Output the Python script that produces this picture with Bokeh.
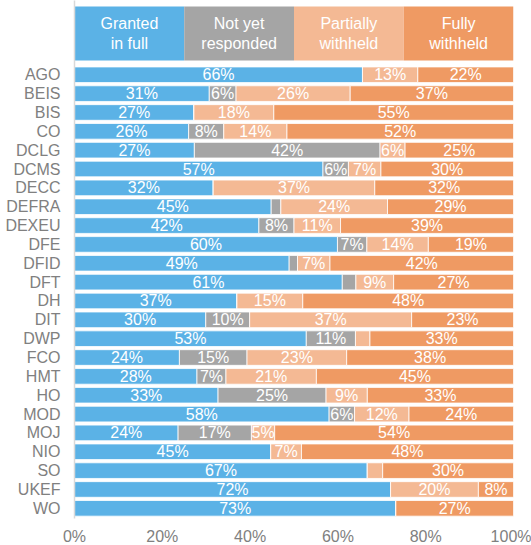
from bokeh.plotting import figure
from bokeh.models import ColumnDataSource, FixedTicker, PrintfTickFormatter, Range1d
from bokeh.core.properties import value
from bokeh.embed import file_html
from bokeh.resources import INLINE

categories = ["AGO", "BEIS", "BIS", "CO", "DCLG", "DCMS", "DECC", "DEFRA", "DEXEU", "DFE",
              "DFID", "DFT", "DH", "DIT", "DWP", "FCO", "HMT", "HO", "MOD", "MOJ",
              "NIO", "SO", "UKEF", "WO"]
granted = [65.6, 30.7, 27.2, 26.0, 27.3, 56.6, 31.6, 44.8, 42.0, 59.9,
           48.9, 61.0, 37.0, 29.9, 52.8, 23.9, 27.9, 32.7, 58.0, 23.6,
           44.7, 66.7, 72.0, 73.2]
not_yet = [0.0, 6.1, 0.0, 8.0, 42.3, 5.8, 0.0, 2.2, 8.0, 6.7,
           1.9, 3.1, 0.0, 10.0, 11.2, 15.4, 6.6, 24.6, 5.8, 16.7,
           0.0, 0.0, 0.0, 0.0]
partial = [12.6, 26.0, 18.2, 14.4, 5.7, 7.4, 36.8, 24.3, 10.6, 14.0,
           7.4, 8.6, 15.0, 36.9, 3.3, 22.7, 20.6, 9.4, 12.4, 5.3,
           7.0, 3.5, 20.0, 0.0]
fully = [21.8, 37.2, 54.6, 51.6, 24.7, 30.2, 31.6, 28.7, 39.4, 19.4,
         41.8, 27.3, 48.0, 23.2, 32.7, 38.0, 44.9, 33.3, 23.8, 54.4,
         48.3, 29.8, 8.0, 26.8]
series_names = ["Granted\nin full", "Not yet\nresponded", "Partially\nwithheld", "Fully\nwithheld"]
colors = ["#5BB2E6", "#A5A5A5", "#F4B994", "#EF9A63"]
x_ticks = [0, 20, 40, 60, 80, 100]

FONT = value("Liberation Sans")

p = figure(frame_width=439, frame_height=518, x_range=Range1d(0, 100), y_range=Range1d(23.54, -3.94),
           output_backend="svg", toolbar_location=None,
           min_border_left=74, min_border_right=18, min_border_top=0, min_border_bottom=27)
p.outline_line_color = None
p.xgrid.visible = False
p.ygrid.visible = False

ys = list(range(len(categories)))
series = [granted, not_yet, partial, fully]
left = [0.0] * len(categories)
lab_x, lab_y, lab_t = [], [], []
for vals, col in zip(series, colors):
    right = [l + v for l, v in zip(left, vals)]
    src = ColumnDataSource(dict(y=ys, left=left, right=right))
    p.hbar(y="y", left="left", right="right", height=0.83, source=src,
           fill_color=col, line_color="white", line_width=0.8)
    for i, v in enumerate(vals):
        if v >= 5:
            lab_x.append((left[i] + right[i]) / 2)
            lab_y.append(ys[i])
            lab_t.append(f"{v:.0f}%")
    left = right

p.text(x=lab_x, y=lab_y, text=lab_t, text_align="center", text_baseline="middle",
       text_color="white", text_font=FONT, text_font_size="16px")

# header legend band
n = len(series_names)
h_left = [100 * i / n for i in range(n)]
h_right = [100 * (i + 1) / n for i in range(n)]
p.quad(left=h_left, right=h_right, top=-3.62, bottom=-0.76, fill_color=colors, line_color=None)
p.text(x=[(a + b) / 2 for a, b in zip(h_left, h_right)], y=[-2.19] * n, text=series_names,
       text_align="center", text_baseline="middle", text_color="white",
       text_font=FONT, text_font_size="16px", text_line_height=1.2)

p.yaxis.ticker = FixedTicker(ticks=ys)
p.yaxis.major_label_overrides = {i: c for i, c in enumerate(categories)}
p.yaxis.major_tick_line_color = None
p.yaxis.minor_tick_line_color = None
p.yaxis.major_tick_out = 0
p.yaxis.major_tick_in = 0
p.yaxis.minor_tick_out = 0
p.yaxis.minor_tick_in = 0
p.yaxis.axis_line_color = "#D9D9D9"
p.yaxis.axis_line_width = 1.5
p.yaxis.major_label_standoff = 14
p.yaxis.major_label_text_font = "Liberation Sans"
p.yaxis.major_label_text_font_size = "16px"
p.yaxis.major_label_text_color = "#808080"

p.xaxis.ticker = FixedTicker(ticks=x_ticks)
p.xaxis.formatter = PrintfTickFormatter(format="%d%%")
p.xaxis.axis_line_color = None
p.xaxis.major_tick_line_color = None
p.xaxis.minor_tick_line_color = None
p.xaxis.major_tick_out = 0
p.xaxis.major_tick_in = 0
p.xaxis.minor_tick_out = 0
p.xaxis.minor_tick_in = 0
p.xaxis.major_label_standoff = 9
p.xaxis.major_label_text_font = "Liberation Sans"
p.xaxis.major_label_text_font_size = "16px"
p.xaxis.major_label_text_color = "#808080"

open("out.html", "w").write(file_html(p, INLINE))
